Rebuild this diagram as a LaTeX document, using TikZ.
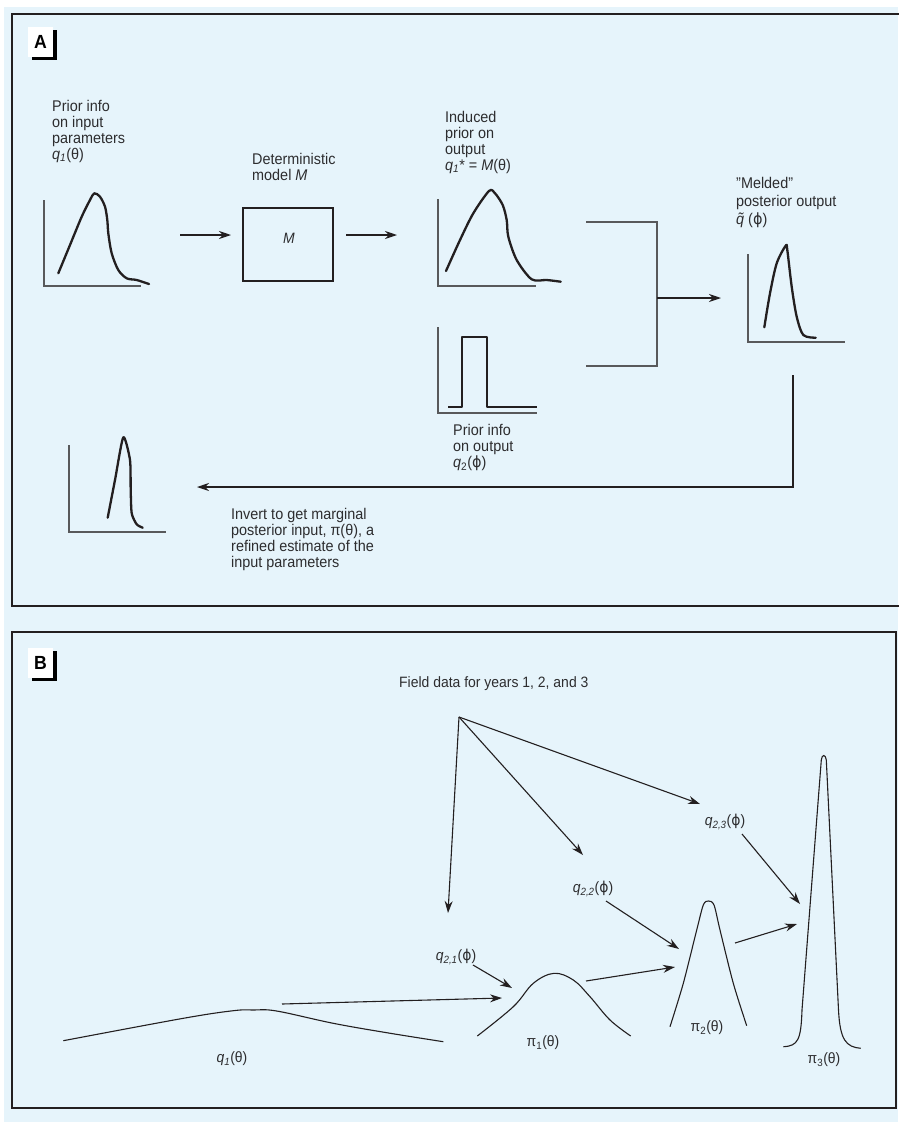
\documentclass[tikz,border=0pt]{standalone}
\usepackage{fontspec}
\setmainfont{Liberation Sans}[FakeStretch=0.93]
\newfontfamily\phifont{DejaVu Sans}[FakeStretch=0.93]
\usetikzlibrary{arrows.meta,shadows}
\definecolor{panelblue}{RGB}{230,244,251}
\definecolor{ink}{RGB}{35,31,32}
\definecolor{axisgray}{RGB}{88,89,91}
\definecolor{txtgray}{RGB}{45,45,47}
\newcommand{\fii}{{\phifont ϕ}}
\begin{document}
\begin{tikzpicture}[
        x=1pt, y=-1pt,
        panel/.style={draw=ink, line width=2.4pt},
        axis/.style={draw=axisgray, line width=1.2pt},
        curve/.style={draw=ink, line width=2.3pt, line cap=round, line join=round},
        thincurve/.style={draw=ink, line width=1.1pt},
        arr/.style={draw=ink, line width=1.1pt, -{Stealth[length=12pt,width=8pt]}},
        txt/.style={align=left, anchor=north west, inner sep=0pt, text=txtgray, font=\fontsize{15.5}{16}\selectfont},
        lbl/.style={inner sep=0pt, text=txtgray, font=\fontsize{15}{16}\selectfont},
        mbox/.style={rectangle, draw=ink, line width=1.3pt, minimum width=90pt, minimum height=73pt},
        tag/.style={fill=white, minimum width=25pt, minimum height=30pt, inner sep=0pt,
            font=\fontsize{19}{19}\selectfont\bfseries,
            drop shadow={shadow xshift=4pt, shadow yshift=-3pt, fill=black, opacity=1}}
    ]
    \useasboundingbox (0,0) rectangle (898,1122);
    \fill[white] (0,0) rectangle (898,1122);
    \fill[panelblue] (4,7) rectangle (898,1122);
    \draw[panel] (905,14) -- (12,14) -- (12,606) -- (905,606);
    \draw[panel] (12,632) rectangle (896,1108);
    \node[tag] (taga) at (40.5,42) {A};
    \node[tag] (tagb) at (40.5,663) {B};

    \node[txt] (prior) at (52,100) {Prior info\\on input\\parameters\\\textit{q}\textsubscript{\textit{1}}(θ)};
    \draw[axis] (44,200) |- (141,286);
    \draw[curve] plot[smooth, tension=0.5] coordinates {(58.3,273.3) (70,245) (81.7,216.7) (90,200) (94.3,193.3) (100,196.7) (105,206.7) (107.3,220) (108.3,233.3) (111.7,253.3) (118.3,270) (126.7,278.3) (136.7,280) (149,284)};

    \node[txt] (detm) at (252,153) {Deterministic\\model \textit{M}};
    \node[mbox] (model) at (288,244.5) {};
    \node[lbl] (mlabel) at (289,238) {\textit{M}};
    \coordinate (a1s) at (180,235);
    \coordinate (a1e) at (231,235);
    \coordinate (a2s) at (346,235);
    \coordinate (a2e) at (397,235);
    \draw[arr] (a1s) -- (a1e);
    \draw[arr] (a2s) -- (a2e);

    \node[txt] (induced) at (445,110.7) {Induced\\prior on\\output\\\textit{q}\textsubscript{\textit{1}}* = \textit{M}(θ)};
    \draw[axis] (438,199) |- (536,286);
    \draw[curve] plot[smooth, tension=0.5] coordinates {(446,271) (460,240) (473.3,213.3) (489,191) (495,193.3) (502.7,205) (506.7,220) (508.3,236.7) (516.7,260) (531.7,279.3) (546.7,280) (560.7,281.7)};

    \draw[axis] (438,327) |- (537,413);
    \draw[curve, line cap=butt] (448,407) -- (462,407) -- (462,337) -- (487,337) -- (487,407) -- (537,407);
    \node[txt] (priorout) at (453,424) {Prior info\\on output\\\textit{q}\textsubscript{2}(\fii)};

    \coordinate (brtop) at (586,222);
    \coordinate (brbot) at (586,366);
    \coordinate (brmid) at (657,298);
    \coordinate (meldin) at (721,298);
    \draw[axis] (brtop) -| (657,366) -- (brbot);
    \draw[arr] (brmid) -- (meldin);

    \node[txt, font=\fontsize{15.5}{18}\selectfont] (melded) at (736,176.7) {”Melded”\\posterior output\\\textit{\~{q}} (\fii)};
    \draw[axis] (748,254) |- (845,342);
    \draw[curve] plot[smooth, tension=0.5] coordinates {(764.3,327.3) (770,293.3) (776.7,263.3) (785.7,245.7) (787.3,250) (791.7,286.7) (796.7,316.7) (803.3,335) (815.7,337.7)};

    \coordinate (back) at (793,375);
    \coordinate (postin) at (197,487);
    \draw[arr] (back) |- (postin);

    \draw[axis] (69,445) |- (166,532);
    \draw[curve] plot[smooth, tension=0.4] coordinates {(107.7,517.7) (115,480) (123.3,437.3) (130,460) (130.7,490) (131.7,513.3) (136.7,524.3) (142.7,527.7)};
    \node[txt] (invert) at (231,507.7) {Invert to get marginal\\posterior input, π(θ), a\\refined estimate of the\\input parameters};

    \node[txt, font=\fontsize{15}{16}\selectfont] (field) at (399,676.7) {Field data for years 1, 2, and 3};
    \coordinate (fd) at (459,717);
    \node[lbl] (q21) at (456,957) {\textit{q}\textsubscript{\textit{2,1}}(\fii)};
    \node[lbl] (q22) at (593,889) {\textit{q}\textsubscript{\textit{2,2}}(\fii)};
    \node[lbl] (q23) at (725,822) {\textit{q}\textsubscript{\textit{2,3}}(\fii)};
    \coordinate (q21in) at (448,913);
    \coordinate (q22in) at (583,855);
    \coordinate (q23in) at (700,804);
    \draw[arr] (fd) -- (q21in);
    \draw[arr] (fd) -- (q22in);
    \draw[arr] (fd) -- (q23in);

    \draw[thincurve] plot[smooth, tension=0.6] coordinates {(63.3,1040.7) (183.3,1018.3) (233.3,1010.7) (253.3,1010) (276.7,1011) (333.3,1023.3) (386.7,1032.7) (443.3,1041.7)};
    \draw[thincurve] plot[smooth, tension=0.6] coordinates {(477.3,1036) (513.3,1006.7) (533.3,983.3) (554,973.3) (573.3,980) (590,996.7) (610,1020) (630.7,1036)};
    \draw[thincurve] plot[smooth, tension=0.5] coordinates {(670,1026.7) (683.3,983.3) (696.7,930) (703.3,905) (708.3,901) (714,905) (720,930) (733.3,983.3) (746.7,1025.7)};
    \draw[thincurve] (783.3,1046.7) .. controls (798,1046) and (801,1040) .. (802,1010) -- (821.3,760) .. controls (822,754) and (825.5,754) .. (826.3,760) -- (838.5,1010) .. controls (840,1040) and (846,1047) .. (860.7,1048.3);

    \node[lbl] (q1lbl) at (232,1059) {\textit{q}\textsubscript{\textit{1}}(θ)};
    \node[lbl] (pi1lbl) at (543,1043) {π\textsubscript{1}(θ)};
    \node[lbl] (pi2lbl) at (707,1028) {π\textsubscript{2}(θ)};
    \node[lbl] (pi3lbl) at (824,1060) {π\textsubscript{3}(θ)};

    \coordinate (q1out) at (282,1004);
    \coordinate (pi1in) at (502,998);
    \coordinate (pi1side) at (512,988);
    \coordinate (pi1out) at (586,981);
    \coordinate (pi2in) at (675,967);
    \coordinate (pi2side) at (679,949);
    \coordinate (pi2out) at (735,943);
    \coordinate (pi3in) at (797,924);
    \coordinate (pi3side) at (800,904);
    \draw[arr] (q1out) -- (pi1in);
    \draw[arr] (pi1out) -- (pi2in);
    \draw[arr] (pi2out) -- (pi3in);
    \draw[arr] (473,965) -- (pi1side);
    \draw[arr] (606,901) -- (pi2side);
    \draw[arr] (742,834) -- (pi3side);
\end{tikzpicture}
\end{document}
